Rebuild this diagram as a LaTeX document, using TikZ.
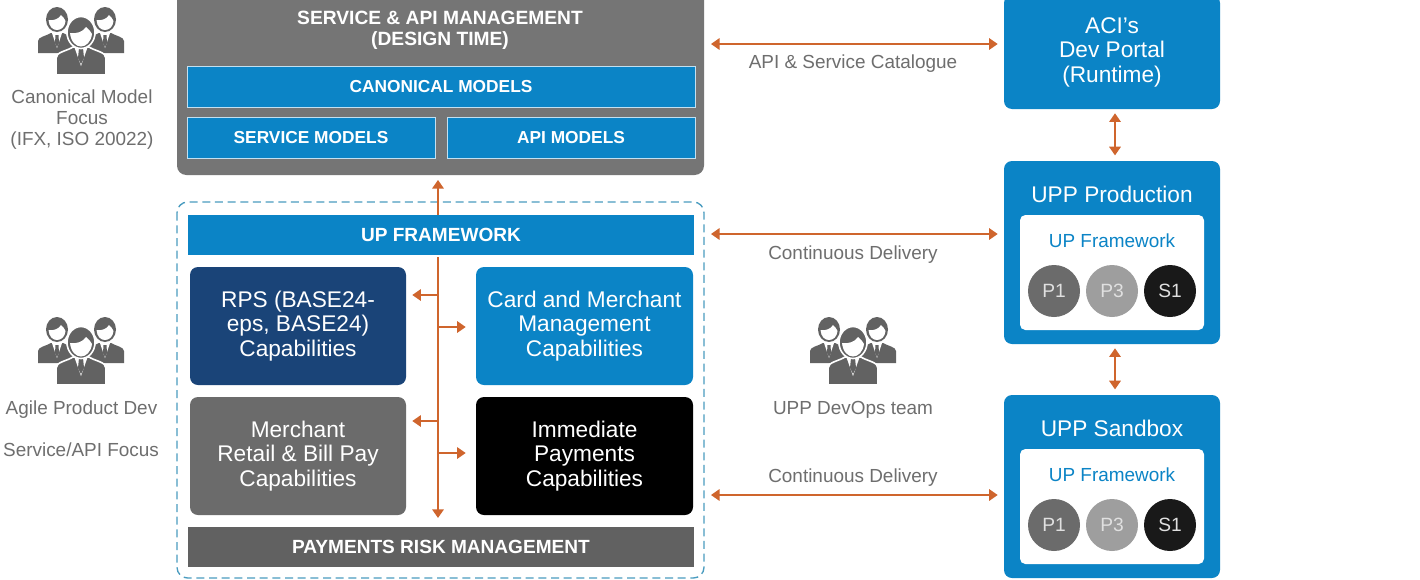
\documentclass[tikz,border=0pt]{standalone}
\usepackage{fontspec}
\setmainfont{Liberation Sans}
\usetikzlibrary{arrows.meta}
\definecolor{aciblue}{HTML}{0B84C6}
\definecolor{topgrey}{HTML}{757575}
\definecolor{navy}{HTML}{1A4478}
\definecolor{midgrey}{HTML}{6B6B6B}
\definecolor{riskgrey}{HTML}{616161}
\definecolor{orangeline}{HTML}{CF652D}
\definecolor{dashblue}{HTML}{4A9CC0}
\definecolor{txtgrey}{HTML}{6E6E6E}
\definecolor{icongrey}{HTML}{626262}
\tikzset{
  sz/.style 2 args={minimum width=#1*0.75pt, minimum height=#2*0.75pt},
  box/.style={rectangle, inner sep=0pt, align=center, text=white},
  big/.style={font=\fontsize{17}{18.4}\selectfont},
  hdr/.style={font=\fontsize{14.3}{16}\selectfont\bfseries},
  subhdr/.style={font=\fontsize{13}{15}\selectfont\bfseries},
  block/.style={box, big, rounded corners=6pt},
  band/.style={box, hdr, fill=aciblue, draw=white!75!aciblue, line width=0.7pt},
  lab/.style={text=txtgrey, align=center, inner sep=0pt, font=\fontsize{14.2}{15.7}\selectfont},
  disc/.style={circle, inner sep=0pt, minimum size=39pt, text=white!88!black, font=\fontsize{14.4}{16}\selectfont},
  flow/.style={draw=orangeline, line width=2.1pt, -{Triangle[length=6.5pt,width=8.5pt]}},
  both/.style={draw=orangeline, line width=2.1pt, {Triangle[length=6.5pt,width=8.5pt]}-{Triangle[length=6.5pt,width=8.5pt]}},
  person/.pic={
    \fill[icongrey,draw=white,line width=1.2pt] (-25,33) -- (-25,16) .. controls (-25,10) and (-14,9) .. (-8,5) -- (8,5) .. controls (14,9) and (25,10) .. (25,16) -- (25,33) -- cycle;
    \fill[white] (-7,4) -- (0,24) -- (7,4) -- cycle;
    \fill[icongrey] (-2,6) -- (2,6) -- (3,16) -- (0,22) -- (-3,16) -- cycle;
    \fill[icongrey,draw=white,line width=1.2pt] (0,-9.5) ellipse (14 and 16);
    \fill[white] (-11,-9) .. controls (-5,-8) and (2,-10) .. (5,-15) .. controls (8,-12) and (10.5,-10) .. (11,-8) .. controls (10,0) and (5,4.5) .. (0,4.5) .. controls (-5,4.5) and (-10,0) .. (-11,-9) -- cycle;
  },
  sideperson/.pic={
    \fill[icongrey] (-19,11) -- (-19,-1) .. controls (-19,-5) and (-11,-6) .. (-6,-9) -- (6,-9) .. controls (11,-6) and (19,-5) .. (19,-1) -- (19,11) -- cycle;
    \fill[white] (-5,-9) -- (0,6) -- (5,-9) -- cycle;
    \fill[icongrey] (-1.5,-7) -- (1.5,-7) -- (2,1) -- (0,5) -- (-2,1) -- cycle;
    \fill[icongrey] (0,-22.5) ellipse (11 and 12.5);
    \fill[white] (-8.5,-22) .. controls (-4,-21) and (2,-23) .. (4,-27) .. controls (6,-25) and (8,-23) .. (8.5,-21) .. controls (8,-15) and (4,-12) .. (0,-12) .. controls (-4,-12) and (-8,-15) .. (-8.5,-22) -- cycle;
  },
  team/.pic={
    \pic at (-24,0) {sideperson};
    \pic at (24,0) {sideperson};
    \pic at (0,0) {person};
  },
}
\begin{document}
\begin{tikzpicture}[x=0.75pt,y=-0.75pt]
\clip (0,0) rectangle (1420,579);
\fill[white] (0,0) rectangle (1420,579);

% design-time panel
\node[block, fill=topgrey, sz={527}{185}, rounded corners=7pt] (design) at (440.5,82.5) {};
\node[box, font=\fontsize{14.4}{15.75}\selectfont\bfseries] (designtitle) at (440,30.5) {SERVICE \& API MANAGEMENT\\(DESIGN TIME)};
\node[band, subhdr, sz={508}{41}] (canonical) at (441,86.5) {CANONICAL MODELS};
\node[band, subhdr, sz={248}{41}] (service) at (311,137.5) {SERVICE MODELS};
\node[band, subhdr, sz={248}{41}] (api) at (571,137.5) {API MODELS};

% framework panel
\draw[dashblue, line width=1pt, dash pattern=on 6pt off 3.5pt, rounded corners=8pt] (177,202) rectangle (704,578);
\node[band, sz={506}{40}, draw=none] (upfw) at (441,235) {UP FRAMEWORK};
\node[block, fill=navy, sz={216}{118}] (rps) at (298,326) {RPS (BASE24-\\eps, BASE24)\\Capabilities};
\node[block, fill=aciblue, sz={217}{118}] (card) at (584.5,326) {Card and Merchant\\Management\\Capabilities};
\node[block, fill=midgrey, sz={216}{118}] (merchant) at (298,456) {Merchant\\Retail \& Bill Pay\\Capabilities};
\node[block, fill=black, sz={217}{118}] (immediate) at (584.5,456) {Immediate\\Payments\\Capabilities};
\node[box, hdr, fill=riskgrey, sz={506}{40}] (risk) at (441,547) {PAYMENTS RISK MANAGEMENT};

% environments
\node[block, fill=aciblue, sz={216}{114}] (aci) at (1112,52) {ACI's\\Dev Portal\\(Runtime)};
\node[block, fill=aciblue, sz={216}{183}] (prod) at (1112,252.5) {};
\node[box, big] (prodtitle) at (1112,194) {UPP Production};
\node[block, fill=white, sz={184}{115}, rounded corners=4pt] (prodin) at (1112,272.5) {};
\node[box, text=aciblue, font=\fontsize{14.2}{16}\selectfont] (prodfw) at (1112,241) {UP Framework};
\node[disc, fill=midgrey] (p1a) at (1054,291) {P1};
\node[disc, fill=white!62!black] (p3a) at (1112,291) {P3};
\node[disc, fill=black!90] (s1a) at (1170,291) {S1};

\node[block, fill=aciblue, sz={216}{183}] (sand) at (1112,486.5) {};
\node[box, big] (sandtitle) at (1112,428) {UPP Sandbox};
\node[block, fill=white, sz={184}{115}, rounded corners=4pt] (sandin) at (1112,506.5) {};
\node[box, text=aciblue, font=\fontsize{14.2}{16}\selectfont] (sandfw) at (1112,475) {UP Framework};
\node[disc, fill=midgrey] (p1b) at (1054,525) {P1};
\node[disc, fill=white!62!black] (p3b) at (1112,525) {P3};
\node[disc, fill=black!90] (s1b) at (1170,525) {S1};

% labels
\node[lab] (lcanon) at (82,119.5) {Canonical Model\\Focus\\(IFX, ISO 20022)};
\node[lab] (lagile) at (81.5,409.5) {Agile Product Dev};
\node[lab] (lservice) at (81,449.5) {Service/API Focus};
\node[lab] (lcat) at (853,64) {API \& Service Catalogue};
\node[lab] (lcd1) at (853,255) {Continuous Delivery};
\node[lab] (lcd2) at (853,478) {Continuous Delivery};
\node[lab] (ldevops) at (853,409.5) {UPP DevOps team};

% people
\pic at (81,42) {team};
\pic at (81,352) {team};
\pic at (853,352) {team};

% connectors
\coordinate (spineTop) at (438,257);
\coordinate (spineEnd) at (438,518);
\draw[both] ([xshift=5pt]design.east |- 0,44) -- ([xshift=-4.5pt]aci.west |- 0,44);
\draw[both] ([xshift=5pt]design.east |- 0,234) -- ([xshift=-4.5pt]prod.west |- 0,234);
\draw[both] ([xshift=5pt]design.east |- 0,495) -- ([xshift=-4.5pt]sand.west |- 0,495);
\draw[both] ([yshift=-3pt]aci.south -| 1115,0) -- ([yshift=4pt]prod.north -| 1115,0);
\draw[both] ([yshift=-3pt]prod.south -| 1115,0) -- ([yshift=4pt]sand.north -| 1115,0);
\draw[flow] (upfw.north -| spineTop) -- ([yshift=-3.5pt]design.south -| spineTop);
\draw[flow] (spineTop) -- (spineEnd);
\draw[flow] (spineTop |- 0,295) -- ([xshift=4.5pt]rps.east |- 0,295);
\draw[flow] (spineTop |- 0,327) -- ([xshift=-7.5pt]card.west |- 0,327);
\draw[flow] (spineTop |- 0,421) -- ([xshift=4.5pt]merchant.east |- 0,421);
\draw[flow] (spineTop |- 0,453) -- ([xshift=-7.5pt]immediate.west |- 0,453);
\end{tikzpicture}
\end{document}
